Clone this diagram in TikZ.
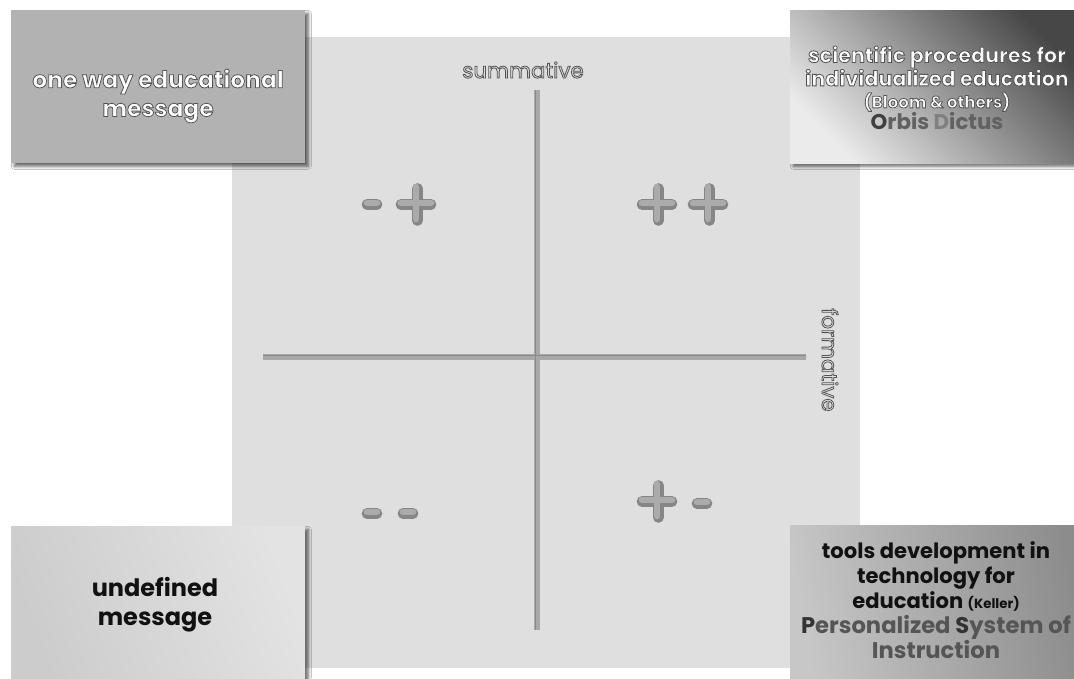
\documentclass[tikz,border=0pt]{standalone}
\usepackage{fontspec}
\setmainfont{Poppins}
\usetikzlibrary{shadows.blur}

\definecolor{panel}{HTML}{DFDFDF}
\definecolor{axisgray}{HTML}{A8A8A8}
\definecolor{axisdark}{HTML}{8A8A8A}
\definecolor{signfill}{HTML}{ABABAB}
\definecolor{signedge}{HTML}{707070}
\definecolor{darktext}{HTML}{111111}
\definecolor{subtext}{HTML}{555555}

% outlined glyphs: fill with the current colour, stroke in dark grey
\newcommand{\halo}[1]{{\special{pdf:literal direct 2 Tr 0.6 w 0.33 0.33 0.33 RG}#1\special{pdf:literal direct 0 Tr 1 w 0 G}}}

\tikzset{
  card/.style={draw=none, inner sep=0pt, minimum width=220.5pt, minimum height=114.75pt,
    blur shadow={shadow xshift=2.5pt, shadow yshift=-2.5pt, shadow blur steps=8, shadow opacity=60}},
  whitelbl/.style={align=center, text=white, font=\bfseries\fontsize{17.5}{21.5}\selectfont, inner sep=0pt},
  blacklbl/.style={align=center, text=darktext, font=\bfseries\fontsize{18}{21.5}\selectfont, inner sep=0pt},
  axislbl/.style={text=panel, font=\fontsize{16}{18}\selectfont, inner sep=0pt},
  axisline/.style={line width=4pt, draw=axisgray},
  signlow/.style={line width=8pt, draw=signedge, line cap=round, opacity=0.8},
  signtop/.style={line width=5pt, draw=signfill, line cap=round},
}

\newcommand{\plussign}[1]{%
  \begin{scope}[shift={#1}]
    \draw[signlow] (-15,1.5) -- (15,1.5) (1.5,-14.5) -- (1.5,17.5);
    \draw[signtop] (-15,0) -- (15,0) (0,-16) -- (0,16);
  \end{scope}}
\newcommand{\minussign}[1]{%
  \begin{scope}[shift={#1}]
    \draw[signlow] (-5,1.5) -- (5,1.5);
    \draw[signtop] (-5,0) -- (5,0);
  \end{scope}}

\begin{document}
\begin{tikzpicture}[x=0.75pt, y=-0.75pt]
  \useasboundingbox (0,0) rectangle (1074,678);
  \clip (0,0) rectangle (1074,678);
  \fill[white] (0,0) rectangle (1074,678);

  % central panel
  \fill[panel] (232,37) rectangle (860,668);

  % axes
  \coordinate (vtop) at (537,90);
  \coordinate (vbot) at (537,630);
  \coordinate (hleft) at (263,357);
  \coordinate (hright) at (806,357);
  \draw[axisline] (vtop) -- (vbot);
  \draw[axisline] (hleft) -- (hright);
  \draw[axisdark, line width=1pt] ([xshift=-1.2pt]vtop) -- ([xshift=-1.2pt]vbot);
  \draw[axisdark, line width=1pt] ([yshift=1.2pt]hleft) -- ([yshift=1.2pt]hright);

  \node[axislbl] (summ) at (523,70) {\halo{summative}};
  \node[axislbl, rotate=-90] (form) at (830,360) {\halo{formative}};

  % quadrant signs
  \minussign{(372,203)} \plussign{(416,203)}
  \plussign{(657,203)} \plussign{(708,203)}
  \minussign{(372,512)} \minussign{(408,512)}
  \plussign{(657,500)} \minussign{(702,502)}

  % corner cards
  \node[card, fill=black!30] (tl) at (158,86.5) {};
  \node[card, shading=axis, top color=black!72, bottom color=black!8, shading angle=-45] (tr) at (937,86.5) {};
  \node[card, shading=axis, top color=black!11, bottom color=black!20, shading angle=-70] (bl) at (158,602.5) {};
  \node[card, shading=axis, top color=black!45, bottom color=black!22, shading angle=-80] (br) at (937,602) {};

  \node[whitelbl] (tltext) at (158,96) {\halo{one way educational}\\\halo{message}};
  \node[whitelbl, font=\bfseries\fontsize{15.5}{16.5}\selectfont] (trtext) at (937,88)
    {\halo{scientific procedures for}\\\halo{individualized education}\\
     {\fontsize{12.5}{15}\selectfont\halo{(Bloom \& others)}}\\
     {\fontsize{16}{21}\selectfont\textcolor{black!62}{{\color{black!75}O}rbis {\color{black!50}D}ictus}}};
  \node[blacklbl] (bltext) at (155,605) {undefined\\message};
  \node[blacklbl, font=\bfseries\fontsize{15.8}{18.7}\selectfont] (brtext) at (936,600)
    {tools development in\\technology for\\education {\fontsize{10}{15}\selectfont(Keller)}\\
     {\fontsize{17}{19}\selectfont\textcolor{subtext}{{\color{black!80}P}ersonalized {\color{black!80}S}ystem of}}\\
     {\fontsize{17}{22}\selectfont\textcolor{subtext}{Instruction}}};
\end{tikzpicture}
\end{document}
